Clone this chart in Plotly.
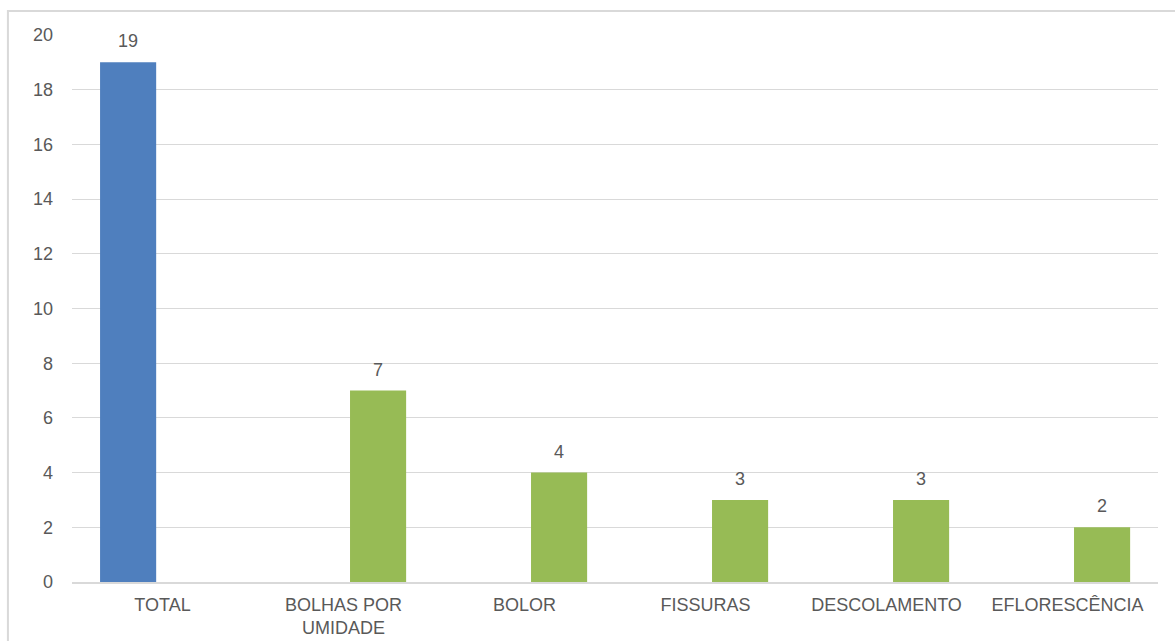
import plotly.graph_objects as go

categories = ["TOTAL", "BOLHAS POR<br>UMIDADE", "BOLOR", "FISSURAS", "DESCOLAMENTO", "EFLORESCÊNCIA"]
total_values = [19, None, None, None, None, None]
item_values = [None, 7, 4, 3, 3, 2]
y_ticks = [0, 2, 4, 6, 8, 10, 12, 14, 16, 18, 20]

BLUE = "#4f7fbe"
GREEN = "#97bb55"
TXT = "#595959"
FONT = "Liberation Sans, Arial, sans-serif"

bar_w = 0.31
blue_off = -0.345
green_off = 0.036

fig = go.Figure()
fig.add_trace(go.Bar(x=categories, y=total_values, width=bar_w, offset=blue_off,
                     marker=dict(color=BLUE, line=dict(width=0)), hoverinfo="y"))
fig.add_trace(go.Bar(x=categories, y=item_values, width=bar_w, offset=green_off,
                     marker=dict(color=GREEN, line=dict(width=0)), hoverinfo="y"))

annotations = []
for i, v in enumerate(total_values):
    if v is not None:
        annotations.append(dict(x=i + blue_off + bar_w / 2, y=v, xref="x", yref="y",
                                text=str(v), showarrow=False, yanchor="middle", yshift=21,
                                font=dict(size=18, color=TXT, family=FONT)))
for i, v in enumerate(item_values):
    if v is not None:
        annotations.append(dict(x=i + green_off + bar_w / 2, y=v, xref="x", yref="y",
                                text=str(v), showarrow=False, yanchor="middle", yshift=21,
                                font=dict(size=18, color=TXT, family=FONT)))

fig.update_layout(
    width=1175, height=641,
    margin=dict(l=72, r=17, t=35, b=59, autoexpand=False),
    paper_bgcolor="white", plot_bgcolor="white",
    showlegend=False,
    barmode="overlay",
    font=dict(family=FONT, color=TXT, size=18),
    annotations=annotations,
    shapes=[dict(type="rect", xref="paper", yref="paper",
                 x0=-0.059, x1=1.05, y0=-0.2, y1=1.044,
                 line=dict(color="#d9d9d9", width=2), layer="below")],
)
fig.update_xaxes(type="category", categoryorder="array", categoryarray=categories,
                 range=[-0.5, 5.5], showline=True, linecolor="#d9d9d9", linewidth=2,
                 showgrid=False, ticks="", tickfont=dict(size=18, color=TXT),
                 ticklabelstandoff=5, tickangle=0, automargin=False)
fig.update_yaxes(range=[0, 20], tickvals=y_ticks, showgrid=True, gridcolor="#d9d9d9",
                 gridwidth=1, zeroline=False, showline=False, ticks="",
                 tickfont=dict(size=18, color=TXT), ticklabelstandoff=18, automargin=False)

fig.write_html("out.html")
